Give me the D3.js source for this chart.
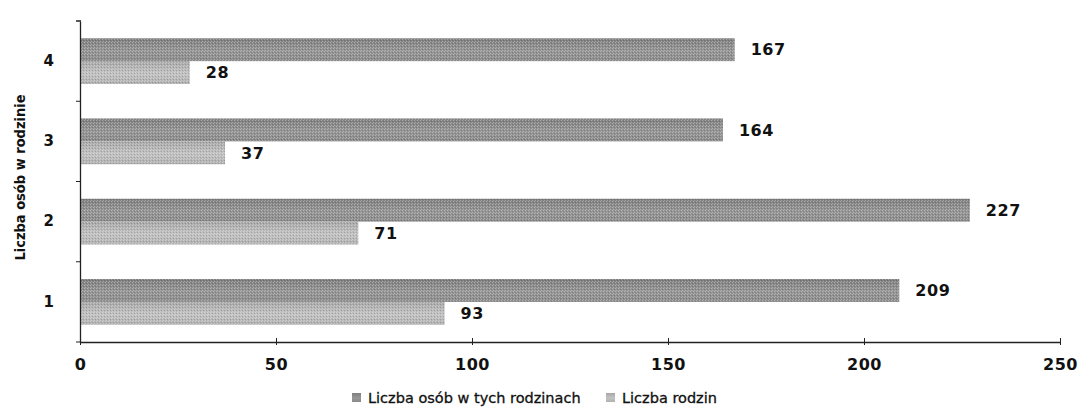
<!DOCTYPE html>
<html><head><meta charset="utf-8">
<script src="https://cdn.jsdelivr.net/npm/d3@7"></script>
<style>body{margin:0;background:#fff}svg{display:block}</style>
</head><body>
<svg id="c" width="1085" height="408"></svg>
<script>
const categories = ["1","2","3","4"];
const seriesNames = ["Liczba osób w tych rodzinach","Liczba rodzin"];
const osoby = [209,227,164,167];
const rodziny = [93,71,37,28];
const xTicks = [0,50,100,150,200,250];
const yTitle = "Liczba osób w rodzinie";

const svg = d3.select("#c");
const m = {l:80,r:25,t:21,b:66};
const W=1085,H=408;
const x = d3.scaleLinear().domain([0,250]).range([m.l,W-m.r]);
const y = d3.scaleBand().domain(categories).range([H-m.b,m.t]).paddingInner(0.43).paddingOuter(0.215);
const sub = d3.scaleBand().domain([0,1]).range([0,y.bandwidth()]);

const defs = svg.append("defs");
function mkPat(id,c1,c2,c3){
  const g = defs.append("linearGradient").attr("id",id+"g").attr("x1",0).attr("y1",0).attr("x2",0).attr("y2",1);
  g.append("stop").attr("offset","0%").attr("stop-color",c1);
  g.append("stop").attr("offset","55%").attr("stop-color",c2);
  g.append("stop").attr("offset","100%").attr("stop-color",c3);
  const p = defs.append("pattern").attr("id",id).attr("patternUnits","userSpaceOnUse").attr("width",3).attr("height",3);
  p.append("rect").attr("x",0).attr("y",0).attr("width",1).attr("height",1).attr("fill","#fff").attr("opacity",0.3);
  p.append("rect").attr("x",2).attr("y",1).attr("width",1).attr("height",1).attr("fill","#000").attr("opacity",0.15);
  p.append("rect").attr("x",1).attr("y",2).attr("width",1).attr("height",1).attr("fill","#fff").attr("opacity",0.25);
}
mkPat("p0","#7e7e7e","#969696","#8a8a8a");
mkPat("p1","#a8a8a8","#c2c2c2","#b0b0b0");

const data = categories.map((c,i)=>({c, v:[osoby[i],rodziny[i]]}));
const grp = svg.append("g");
data.forEach(d=>{
  d.v.forEach((v,k)=>{
    const yy = y(d.c)+sub(k);
    grp.append("rect").attr("x",x(0)).attr("y",yy).attr("width",x(v)-x(0)).attr("height",sub.bandwidth())
      .attr("fill",`url(#p${k}g)`);
    grp.append("rect").attr("x",x(0)).attr("y",yy).attr("width",x(v)-x(0)).attr("height",sub.bandwidth())
      .attr("fill",`url(#p${k})`);
    grp.append("text").attr("x",x(v)+16).attr("y",yy+sub.bandwidth()/2).attr("dy","0.36em")
      .attr("font-family","DejaVu Sans").attr("font-weight","bold").attr("font-size",16).attr("letter-spacing",0.6).attr("fill","#111").text(v);
  });
});

// axes
const xa = svg.append("g").attr("transform",`translate(0,${H-m.b})`)
  .call(d3.axisBottom(x).tickValues(xTicks).tickSize(5).tickSizeOuter(0));
xa.select(".domain").attr("stroke","#222").attr("stroke-width",1.3);
xa.selectAll(".tick line").attr("stroke","#222").attr("y1",-4).attr("y2",3);
xa.selectAll("text").attr("font-family","DejaVu Sans").attr("font-weight","bold").attr("font-size",16).attr("letter-spacing",0.6).attr("fill","#111").attr("dy","1.25em");

const ya = svg.append("g").attr("transform",`translate(${m.l},0)`)
  .call(d3.axisLeft(y).tickSize(0).tickPadding(26));
ya.select(".domain").attr("stroke","#222").attr("stroke-width",1.3);
ya.selectAll("text").attr("font-family","DejaVu Sans").attr("font-weight","bold").attr("font-size",15).attr("fill","#111");
const bounds = [H-m.b].concat(categories.map(c=>y(c)-y.step()*y.paddingInner()/2)).concat([m.t]);
svg.append("g").selectAll("line").data(bounds).join("line")
  .attr("x1",m.l-4).attr("x2",m.l+1).attr("y1",d=>d).attr("y2",d=>d).attr("stroke","#222");

svg.append("text").attr("transform",`translate(25,${(m.t+H-m.b)/2 - 4}) rotate(-90)`).attr("text-anchor","middle")
  .attr("font-family","DejaVu Sans Condensed").attr("font-weight","bold").attr("font-size",14)
  .attr("textLength",166).attr("lengthAdjust","spacingAndGlyphs").attr("fill","#111").text(yTitle);

// legend
const lg = svg.append("g").attr("transform","translate(0,398)");
const lx = [352,606];
seriesNames.forEach((n,k)=>{
  lg.append("rect").attr("x",lx[k]).attr("y",-5).attr("width",9).attr("height",9).attr("fill",`url(#p${k}g)`);
  lg.append("text").attr("x",lx[k]+16).attr("y",0).attr("dy","0.35em")
    .attr("font-family","DejaVu Sans").attr("font-size",14.5).attr("fill","#111").attr("stroke","#111").attr("stroke-width",0.3).text(n);
});
</script>
</body></html>
